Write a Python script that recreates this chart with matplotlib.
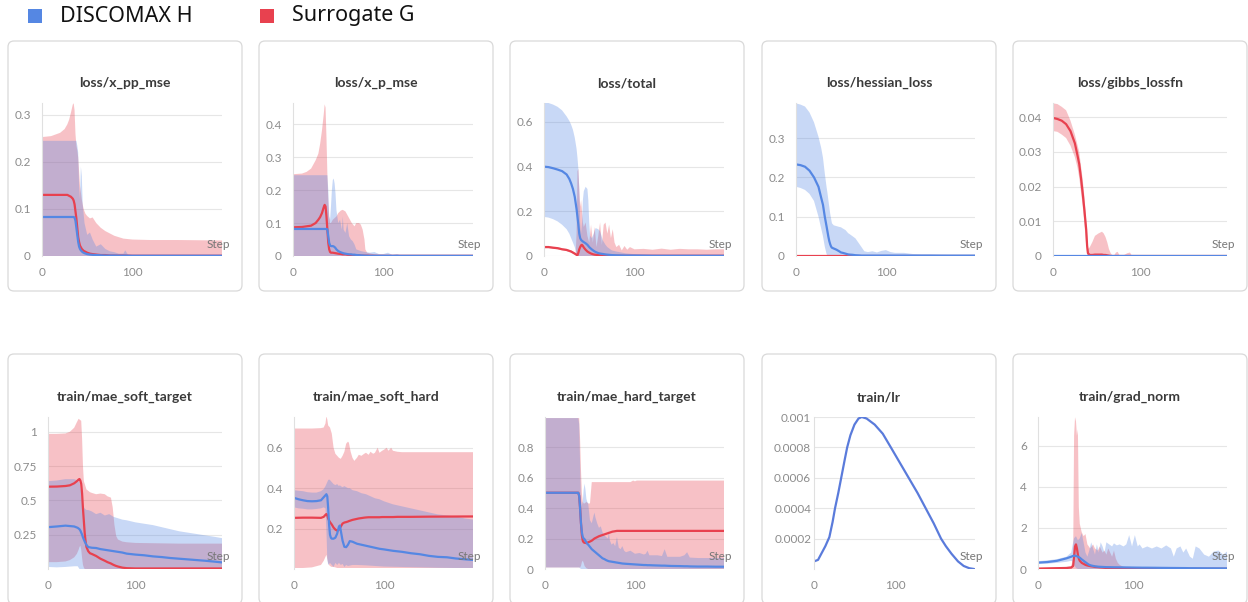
import numpy as np
import matplotlib
matplotlib.use("Agg")
import matplotlib.pyplot as plt
from matplotlib.patches import FancyBboxPatch, Rectangle
from matplotlib.ticker import FuncFormatter

plt.rcParams["font.family"] = ["Lato", "DejaVu Sans"]

BLUE = "#5587E3"
RED = "#E8414F"

SERIES_NAMES = ["DISCOMAX H", "Surrogate G"]
TITLES = ["loss/x_pp_mse", "loss/x_p_mse", "loss/total", "loss/hessian_loss", "loss/gibbs_lossfn",
          "train/mae_soft_target", "train/mae_soft_hard", "train/mae_hard_target", "train/lr", "train/grad_norm"]
X_TICKS = [0, 100]

# ---------- loss/x_pp_mse ----------
PP_B_STEP = [0, 10, 20, 30, 35, 36, 37, 38, 39, 40, 41, 42, 43, 44, 45, 47, 50, 53, 56, 60, 65, 70, 75, 80, 85, 90, 92, 95, 100, 120, 150, 199]
PP_B_MID = [0.083, 0.083, 0.083, 0.083, 0.083, 0.082, 0.075, 0.06, 0.045, 0.03, 0.02, 0.015, 0.012, 0.01, 0.008, 0.006, 0.004, 0.003, 0.0025, 0.002, 0.0015, 0.001, 0.001, 0.001, 0.0008, 0.0008, 0.0008, 0.0006, 0.0005, 0.0005, 0.0005, 0.0005]
PP_B_HI = [0.245, 0.245, 0.245, 0.245, 0.245, 0.245, 0.245, 0.245, 0.235, 0.22, 0.15, 0.12, 0.19, 0.17, 0.11, 0.07, 0.045, 0.05, 0.035, 0.02, 0.025, 0.015, 0.01, 0.008, 0.005, 0.005, 0.012, 0.003, 0.002, 0.001, 0.001, 0.0005]
PP_B_LO_STEP = [0, 199]
PP_B_LO = [0, 0]
PP_R_STEP = [0, 10, 20, 25, 28, 30, 32, 34, 35, 36, 37, 38, 39, 40, 41, 42, 44, 46, 48, 50, 53, 56, 60, 65, 70, 75, 80, 85, 90, 100, 120, 150, 199]
PP_R_MID = [0.13, 0.13, 0.13, 0.13, 0.13, 0.128, 0.126, 0.122, 0.118, 0.11, 0.095, 0.08, 0.06, 0.04, 0.03, 0.022, 0.015, 0.011, 0.009, 0.007, 0.005, 0.004, 0.003, 0.002, 0.002, 0.001, 0.001, 0.001, 0.001, 0.0005, 0.0005, 0.0005, 0.0005]
PP_R_HI = [0.253, 0.255, 0.262, 0.27, 0.28, 0.29, 0.305, 0.322, 0.325, 0.31, 0.26, 0.235, 0.225, 0.21, 0.18, 0.15, 0.12, 0.1, 0.09, 0.085, 0.08, 0.082, 0.07, 0.06, 0.053, 0.048, 0.043, 0.04, 0.037, 0.035, 0.034, 0.034, 0.033]
PP_R_LO_STEP = [0, 199]
PP_R_LO = [0, 0]
PP_YTICKS = [0, 0.1, 0.2, 0.3]
PP_YTOP = 0.3255

# ---------- loss/x_p_mse ----------
XP_B_STEP = [0, 10, 20, 30, 36, 38, 39, 40, 41, 42, 43, 44, 45, 46, 47, 48, 50, 52, 54, 55, 56, 58, 60, 62, 64, 66, 68, 70, 75, 80, 85, 90, 95, 100, 105, 110, 115, 120, 150, 199]
XP_B_MID = [0.082, 0.082, 0.082, 0.082, 0.082, 0.081, 0.06, 0.04, 0.032, 0.03, 0.03, 0.03, 0.029, 0.027, 0.024, 0.02, 0.015, 0.012, 0.01, 0.009, 0.008, 0.007, 0.006, 0.005, 0.005, 0.004, 0.004, 0.003, 0.002, 0.001, 0.0005, 0.0005, 0.0005, 0.0005, 0.0005, 0.0005, 0.0005, 0.0005, 0.0005, 0.0005]
XP_B_HI = [0.245, 0.245, 0.245, 0.245, 0.245, 0.245, 0.2, 0.12, 0.11, 0.15, 0.2, 0.23, 0.235, 0.22, 0.19, 0.14, 0.1, 0.11, 0.08, 0.12, 0.08, 0.07, 0.1, 0.06, 0.05, 0.045, 0.035, 0.02, 0.015, 0.012, 0.01, 0.012, 0.006, 0.006, 0.01, 0.003, 0.006, 0.001, 0.0005, 0.0003]
XP_B_LO_STEP = [0, 199]
XP_B_LO = [0, 0]
XP_R_STEP = [0, 10, 15, 20, 25, 28, 30, 32, 34, 35, 36, 37, 38, 39, 40, 41, 42, 44, 46, 48, 50, 53, 55, 58, 60, 63, 65, 68, 70, 73, 75, 77, 79, 80, 82, 85, 90, 100, 120, 199]
XP_R_MID = [0.087, 0.088, 0.09, 0.092, 0.1, 0.11, 0.118, 0.13, 0.148, 0.155, 0.15, 0.12, 0.08, 0.04, 0.02, 0.012, 0.01, 0.01, 0.009, 0.008, 0.007, 0.006, 0.005, 0.005, 0.004, 0.003, 0.003, 0.002, 0.002, 0.002, 0.001, 0.001, 0.001, 0.001, 0.001, 0.0005, 0.0005, 0.0005, 0.0005, 0.0005]
XP_R_HI = [0.248, 0.25, 0.255, 0.265, 0.29, 0.31, 0.34, 0.38, 0.43, 0.46, 0.45, 0.36, 0.25, 0.17, 0.12, 0.1, 0.1, 0.11, 0.115, 0.12, 0.13, 0.138, 0.14, 0.135, 0.125, 0.11, 0.1, 0.09, 0.1, 0.1, 0.095, 0.08, 0.05, 0.02, 0.01, 0.008, 0.005, 0.002, 0.001, 0.0005]
XP_R_LO_STEP = [0, 199]
XP_R_LO = [0, 0]
XP_YTICKS = [0, 0.1, 0.2, 0.3, 0.4]
XP_YTOP = 0.464

# ---------- loss/total ----------
TOT_B_STEP = [0, 5, 10, 15, 20, 25, 28, 30, 32, 34, 36, 37, 38, 39, 40, 41, 42, 43, 44, 46, 48, 49, 50, 51, 53, 55, 57, 60, 62, 65, 68, 70, 75, 80, 90, 100, 120, 150, 199]
TOT_B_MID = [0.4, 0.398, 0.393, 0.387, 0.38, 0.365, 0.345, 0.325, 0.3, 0.265, 0.21, 0.175, 0.14, 0.1, 0.08, 0.072, 0.068, 0.065, 0.062, 0.057, 0.05, 0.045, 0.04, 0.036, 0.029, 0.023, 0.018, 0.013, 0.011, 0.009, 0.007, 0.006, 0.004, 0.003, 0.002, 0.002, 0.001, 0.001, 0.001]
TOT_B_HI = [0.688, 0.685, 0.678, 0.668, 0.652, 0.625, 0.605, 0.588, 0.565, 0.53, 0.48, 0.44, 0.39, 0.3, 0.15, 0.1, 0.15, 0.25, 0.29, 0.31, 0.3, 0.25, 0.15, 0.09, 0.08, 0.1, 0.125, 0.12, 0.11, 0.07, 0.05, 0.04, 0.025, 0.02, 0.012, 0.008, 0.005, 0.004, 0.003]
TOT_B_LO_STEP = [0, 5, 10, 15, 20, 25, 28, 30, 32, 34, 36, 37, 199]
TOT_B_LO = [0.175, 0.172, 0.165, 0.155, 0.14, 0.12, 0.1, 0.08, 0.06, 0.04, 0.01, 0, 0]
TOT_R_STEP = [0, 5, 10, 15, 20, 25, 30, 33, 35, 36, 37, 38, 39, 40, 41, 42, 43, 44, 46, 48, 50, 52, 54, 56, 58, 60, 62, 64, 66, 68, 70, 72, 74, 76, 78, 80, 83, 86, 89, 92, 95, 100, 110, 120, 130, 140, 150, 160, 170, 180, 190, 199]
TOT_R_MID = [0.04, 0.04, 0.037, 0.035, 0.03, 0.027, 0.02, 0.013, 0.008, 0.005, 0.003, 0.015, 0.03, 0.04, 0.048, 0.05, 0.045, 0.038, 0.028, 0.02, 0.015, 0.011, 0.008, 0.006, 0.005, 0.004, 0.003, 0.003, 0.002, 0.002, 0.002, 0.001, 0.001, 0.001, 0.001, 0.001, 0.001, 0.001, 0.001, 0.001, 0.001, 0.001, 0.001, 0.001, 0.001, 0.001, 0.001, 0.001, 0.001, 0.001, 0.001, 0.001]
TOT_R_HI = [0.045, 0.045, 0.042, 0.04, 0.035, 0.032, 0.025, 0.018, 0.012, 0.1, 0.38, 0.39, 0.3, 0.22, 0.25, 0.2, 0.15, 0.13, 0.15, 0.09, 0.06, 0.14, 0.06, 0.13, 0.04, 0.09, 0.15, 0.05, 0.14, 0.15, 0.1, 0.14, 0.08, 0.12, 0.06, 0.04, 0.05, 0.025, 0.045, 0.028, 0.04, 0.03, 0.032, 0.028, 0.033, 0.028, 0.032, 0.03, 0.03, 0.028, 0.03, 0.03]
TOT_R_LO_STEP = [0, 5, 10, 15, 20, 25, 30, 33, 35, 36, 199]
TOT_R_LO = [0.035, 0.035, 0.033, 0.03, 0.026, 0.022, 0.015, 0.008, 0.004, 0, 0]
TOT_YTICKS = [0, 0.2, 0.4, 0.6]
TOT_YTOP = 0.685

# ---------- loss/hessian_loss ----------
HES_B_STEP = [0, 5, 10, 15, 20, 25, 28, 30, 32, 34, 35, 36, 37, 38, 39, 40, 42, 45, 48, 50, 52, 55, 58, 60, 63, 66, 70, 73, 76, 80, 85, 90, 95, 100, 105, 110, 120, 130, 140, 150, 160, 180, 199]
HES_B_MID = [0.233, 0.231, 0.227, 0.217, 0.2, 0.176, 0.148, 0.13, 0.1, 0.075, 0.062, 0.049, 0.038, 0.03, 0.024, 0.021, 0.019, 0.016, 0.012, 0.009, 0.008, 0.006, 0.004, 0.0035, 0.003, 0.002, 0.0015, 0.001, 0.001, 0.001, 0.001, 0.001, 0.001, 0.001, 0.001, 0.001, 0.001, 0.001, 0.001, 0.001, 0.001, 0.001, 0.001]
HES_B_HI = [0.388, 0.385, 0.38, 0.365, 0.34, 0.303, 0.275, 0.25, 0.21, 0.175, 0.16, 0.142, 0.125, 0.108, 0.095, 0.083, 0.078, 0.076, 0.074, 0.073, 0.07, 0.066, 0.058, 0.055, 0.05, 0.045, 0.032, 0.022, 0.012, 0.01, 0.012, 0.009, 0.013, 0.015, 0.01, 0.008, 0.008, 0.005, 0.004, 0.004, 0.003, 0.002, 0.002]
HES_B_LO_STEP = [0, 5, 10, 15, 20, 25, 28, 30, 32, 34, 35, 199]
HES_B_LO = [0.176, 0.173, 0.168, 0.158, 0.14, 0.1, 0.07, 0.05, 0.024, 0.005, 0, 0]
HES_R_STEP = [0, 199]
HES_R_MID = [0, 0]
HES_R_HI = [0, 0]
HES_R_LO_STEP = [0, 199]
HES_R_LO = [0, 0]
HES_YTICKS = [0, 0.1, 0.2, 0.3]
HES_YTOP = 0.389

# ---------- loss/gibbs_lossfn ----------
GIB_B_STEP = [0, 199]
GIB_B_MID = [0, 0]
GIB_B_HI = [0, 0]
GIB_B_LO_STEP = [0, 199]
GIB_B_LO = [0, 0]
GIB_R_STEP = [0, 5, 10, 15, 20, 25, 28, 30, 32, 34, 36, 38, 39, 40, 42, 45, 48, 52, 56, 58, 60, 62, 64, 66, 68, 70, 72, 74, 76, 80, 85, 88, 90, 95, 199]
GIB_R_MID = [0.0398, 0.0395, 0.039, 0.038, 0.036, 0.0325, 0.029, 0.0265, 0.0225, 0.018, 0.013, 0.0075, 0.003, 0.0008, 0.0003, 0.0003, 0.0004, 0.0004, 0.0004, 0.0003, 0.0003, 0.0002, 0.0001, 0, 0, 0, 0, 0, 0, 0, 0, 0, 0, 0, 0]
GIB_R_HI = [0.044, 0.0438, 0.043, 0.042, 0.039, 0.035, 0.032, 0.03, 0.026, 0.022, 0.017, 0.01, 0.0066, 0.002, 0.0025, 0.004, 0.0058, 0.0065, 0.007, 0.0065, 0.0055, 0.004, 0.002, 0.0008, 0.0002, 0.0002, 0.001, 0.0012, 0.0002, 0.0001, 0.0008, 0.001, 0.0002, 0, 0]
GIB_R_LO_STEP = [0, 5, 10, 15, 20, 25, 28, 30, 32, 34, 36, 38, 39, 40, 199]
GIB_R_LO = [0.036, 0.0358, 0.035, 0.034, 0.0318, 0.0285, 0.0255, 0.0226, 0.0185, 0.0144, 0.009, 0.003, 0.0003, 0, 0]
GIB_YTICKS = [0, 0.01, 0.02, 0.03, 0.04]
GIB_YTOP = 0.0441

# ---------- train/mae_soft_target ----------
MST_B_STEP = [0, 10, 20, 30, 34, 36, 37, 38, 39, 40, 42, 44, 46, 50, 55, 60, 65, 70, 75, 80, 85, 90, 100, 110, 120, 130, 140, 150, 160, 170, 180, 190, 199]
MST_B_MID = [0.305, 0.31, 0.316, 0.31, 0.3, 0.29, 0.28, 0.265, 0.25, 0.23, 0.2, 0.175, 0.16, 0.155, 0.153, 0.145, 0.14, 0.135, 0.13, 0.125, 0.12, 0.112, 0.105, 0.1, 0.092, 0.087, 0.08, 0.075, 0.07, 0.065, 0.06, 0.054, 0.048]
MST_B_HI = [0.64, 0.645, 0.655, 0.655, 0.645, 0.63, 0.6, 0.55, 0.5, 0.46, 0.44, 0.43, 0.43, 0.42, 0.4, 0.41, 0.39, 0.4, 0.38, 0.37, 0.36, 0.355, 0.34, 0.33, 0.32, 0.305, 0.29, 0.275, 0.265, 0.255, 0.245, 0.235, 0.225]
MST_B_LO_STEP = [0, 10, 20, 30, 34, 36, 199]
MST_B_LO = [0.015, 0.012, 0.015, 0.02, 0.02, 0, 0]
MST_R_STEP = [0, 10, 20, 25, 30, 33, 35, 36, 37, 38, 39, 40, 41, 42, 43, 44, 46, 48, 50, 55, 60, 65, 68, 70, 72, 74, 76, 78, 80, 85, 90, 100, 120, 150, 199]
MST_R_MID = [0.6, 0.601, 0.605, 0.61, 0.625, 0.64, 0.652, 0.656, 0.645, 0.62, 0.55, 0.44, 0.35, 0.26, 0.2, 0.16, 0.13, 0.115, 0.11, 0.095, 0.075, 0.06, 0.05, 0.045, 0.04, 0.033, 0.027, 0.022, 0.018, 0.01, 0.006, 0.004, 0.004, 0.004, 0.004]
MST_R_HI = [0.985, 0.985, 0.988, 1.0, 1.03, 1.07, 1.095, 1.09, 1.085, 1.08, 0.95, 0.75, 0.64, 0.62, 0.6, 0.58, 0.57, 0.56, 0.555, 0.545, 0.55, 0.545, 0.53, 0.525, 0.52, 0.45, 0.32, 0.24, 0.215, 0.2, 0.195, 0.19, 0.188, 0.185, 0.185]
MST_R_LO_STEP = [0, 10, 20, 25, 30, 33, 35, 36, 37, 38, 39, 40, 41, 42, 199]
MST_R_LO = [0.05, 0.05, 0.055, 0.065, 0.085, 0.11, 0.14, 0.16, 0.17, 0.14, 0.08, 0.03, 0.01, 0, 0]
MST_YTICKS = [0.25, 0.5, 0.75, 1]
MST_YTOP = 1.108

# ---------- train/mae_soft_hard ----------
MSH_B_STEP = [0, 5, 10, 15, 20, 25, 30, 33, 35, 36, 37, 38, 39, 40, 41, 42, 44, 46, 48, 50, 51, 52, 54, 56, 58, 60, 62, 65, 70, 75, 80, 85, 90, 95, 100, 110, 120, 130, 140, 150, 160, 170, 180, 190, 199]
MSH_B_MID = [0.352, 0.345, 0.34, 0.336, 0.335, 0.336, 0.34, 0.355, 0.365, 0.37, 0.36, 0.3, 0.22, 0.17, 0.155, 0.15, 0.15, 0.155, 0.175, 0.21, 0.215, 0.19, 0.14, 0.11, 0.108, 0.12, 0.138, 0.135, 0.125, 0.12, 0.115, 0.11, 0.105, 0.1, 0.097, 0.09, 0.085, 0.078, 0.073, 0.065, 0.06, 0.058, 0.052, 0.048, 0.045]
MSH_B_HI = [0.39, 0.387, 0.385, 0.38, 0.378, 0.378, 0.385, 0.395, 0.41, 0.42, 0.43, 0.44, 0.443, 0.44, 0.435, 0.43, 0.42, 0.415, 0.42, 0.41, 0.415, 0.41, 0.405, 0.41, 0.405, 0.4, 0.4, 0.39, 0.385, 0.375, 0.37, 0.36, 0.35, 0.345, 0.335, 0.32, 0.31, 0.3, 0.29, 0.28, 0.27, 0.265, 0.26, 0.25, 0.245]
MSH_B_LO_STEP = [0, 5, 10, 15, 20, 25, 30, 33, 35, 36, 37, 38, 40, 42, 44, 46, 48, 50, 52, 54, 56, 58, 60, 65, 70, 80, 100, 120, 140, 160, 180, 199]
MSH_B_LO = [0.305, 0.3, 0.298, 0.295, 0.295, 0.297, 0.3, 0.305, 0.3, 0.2, 0.05, 0.02, 0.03, 0.02, 0.01, 0.03, 0.02, 0.03, 0.02, 0.025, 0.01, 0.02, 0.015, 0.02, 0.02, 0.018, 0.012, 0.01, 0.008, 0.006, 0.005, 0.005]
MSH_R_STEP = [0, 10, 20, 30, 33, 35, 36, 37, 38, 39, 40, 42, 44, 46, 48, 50, 52, 54, 56, 58, 60, 61, 63, 65, 67, 70, 72, 75, 78, 80, 83, 85, 88, 90, 93, 95, 98, 100, 103, 105, 108, 110, 115, 120, 130, 150, 199]
MSH_R_MID = [0.253, 0.254, 0.254, 0.253, 0.258, 0.268, 0.272, 0.265, 0.25, 0.24, 0.232, 0.22, 0.205, 0.195, 0.19, 0.195, 0.21, 0.225, 0.23, 0.232, 0.235, 0.237, 0.24, 0.243, 0.245, 0.248, 0.25, 0.252, 0.254, 0.255, 0.256, 0.256, 0.256, 0.256, 0.256, 0.256, 0.257, 0.257, 0.257, 0.257, 0.257, 0.257, 0.258, 0.258, 0.258, 0.259, 0.26]
MSH_R_HI = [0.695, 0.695, 0.695, 0.697, 0.7, 0.72, 0.755, 0.74, 0.71, 0.705, 0.7, 0.67, 0.6, 0.57, 0.56, 0.55, 0.545, 0.56, 0.58, 0.62, 0.63, 0.625, 0.58, 0.55, 0.535, 0.55, 0.565, 0.56, 0.57, 0.575, 0.565, 0.58, 0.57, 0.575, 0.6, 0.575, 0.585, 0.59, 0.6, 0.585, 0.6, 0.585, 0.58, 0.578, 0.578, 0.578, 0.578]
MSH_R_LO_STEP = [0, 10, 20, 30, 33, 35, 36, 37, 38, 39, 40, 42, 44, 46, 48, 199]
MSH_R_LO = [0.005, 0.005, 0.008, 0.02, 0.04, 0.06, 0.07, 0.05, 0.03, 0.02, 0.015, 0.01, 0.01, 0.008, 0.005, 0.005]
MSH_YTICKS = [0.2, 0.4, 0.6]
MSH_YTOP = 0.752

# ---------- train/mae_hard_target ----------
MHT_B_STEP = [0, 10, 20, 30, 36, 37, 38, 39, 40, 41, 42, 43, 44, 45, 46, 47, 48, 50, 52, 54, 55, 56, 58, 60, 62, 64, 66, 68, 70, 71, 72, 74, 76, 78, 80, 82, 84, 86, 88, 90, 95, 100, 105, 110, 112, 114, 116, 120, 125, 130, 133, 136, 140, 150, 155, 158, 161, 170, 180, 190, 199]
MHT_B_MID = [0.5, 0.5, 0.5, 0.5, 0.5, 0.5, 0.48, 0.4, 0.3, 0.24, 0.21, 0.2, 0.195, 0.185, 0.175, 0.165, 0.16, 0.145, 0.13, 0.12, 0.115, 0.11, 0.1, 0.09, 0.08, 0.07, 0.065, 0.058, 0.053, 0.051, 0.05, 0.048, 0.046, 0.044, 0.042, 0.04, 0.038, 0.036, 0.035, 0.034, 0.032, 0.03, 0.028, 0.026, 0.026, 0.025, 0.025, 0.024, 0.023, 0.022, 0.022, 0.021, 0.02, 0.019, 0.018, 0.018, 0.017, 0.016, 0.016, 0.015, 0.015]
MHT_B_HI = [0.99, 0.99, 0.99, 0.99, 0.99, 0.99, 0.95, 0.7, 0.45, 0.42, 0.44, 0.52, 0.56, 0.52, 0.46, 0.44, 0.43, 0.32, 0.3, 0.35, 0.37, 0.34, 0.3, 0.27, 0.28, 0.24, 0.22, 0.21, 0.2, 0.25, 0.19, 0.16, 0.17, 0.15, 0.21, 0.14, 0.13, 0.15, 0.12, 0.11, 0.12, 0.1, 0.105, 0.095, 0.1, 0.12, 0.09, 0.09, 0.09, 0.085, 0.13, 0.08, 0.08, 0.08, 0.09, 0.11, 0.075, 0.072, 0.072, 0.072, 0.072]
MHT_B_LO_STEP = [0, 38, 39, 40, 199]
MHT_B_LO = [0.01, 0.01, 0.005, 0, 0]
MHT_R_STEP = [0, 10, 20, 30, 37, 38, 39, 40, 41, 42, 43, 44, 46, 48, 50, 51, 52, 55, 60, 65, 70, 75, 80, 85, 90, 95, 98, 100, 102, 105, 110, 150, 199]
MHT_R_MID = [0.5, 0.5, 0.5, 0.5, 0.5, 0.48, 0.4, 0.3, 0.22, 0.185, 0.175, 0.172, 0.17, 0.175, 0.18, 0.183, 0.186, 0.2, 0.215, 0.225, 0.235, 0.245, 0.25, 0.25, 0.25, 0.25, 0.25, 0.25, 0.25, 0.25, 0.25, 0.25, 0.25]
MHT_R_HI = [0.99, 0.99, 0.99, 0.99, 0.99, 0.99, 0.85, 0.65, 0.5, 0.44, 0.43, 0.43, 0.44, 0.43, 0.43, 0.5, 0.57, 0.57, 0.57, 0.57, 0.57, 0.57, 0.57, 0.57, 0.57, 0.57, 0.58, 0.575, 0.58, 0.58, 0.58, 0.58, 0.58]
MHT_R_LO_STEP = [0, 39, 40, 41, 42, 43, 44, 46, 48, 199]
MHT_R_LO = [0.01, 0.01, 0.02, 0.045, 0.055, 0.04, 0.02, 0.005, 0, 0]
MHT_YTICKS = [0, 0.2, 0.4, 0.6, 0.8]
MHT_YTOP = 0.997

# ---------- train/lr (single run) ----------
LR_STEP = [0, 5, 10, 14, 19, 23, 26, 30, 34, 38, 41, 45, 50, 55, 59, 65, 70, 75, 85, 95, 106, 117, 128, 138, 148, 157, 163, 170, 178, 185, 192, 198]
LR = [0.00005, 0.00006, 0.00011, 0.00015, 0.00021, 0.00031, 0.0004, 0.0005, 0.00061, 0.00072, 0.0008, 0.00088, 0.00095, 0.00099, 0.001, 0.00099, 0.00097, 0.00095, 0.00089, 0.0008, 0.0007, 0.0006, 0.0005, 0.0004, 0.0003, 0.0002, 0.00015, 0.0001, 0.00005, 0.00002, 0.000005, 0.0]
LR_YTICKS = [0.0002, 0.0004, 0.0006, 0.0008, 0.001]
LR_YTOP = 0.001

# ---------- train/grad_norm ----------
GN_B_STEP = [0, 10, 20, 30, 35, 37, 38, 40, 42, 44, 46, 48, 50, 52, 54, 56, 58, 60, 62, 64, 66, 68, 70, 72, 75, 78, 80, 83, 86, 90, 93, 96, 99, 102, 105, 107, 110, 115, 120, 125, 130, 135, 140, 143, 146, 150, 153, 156, 160, 163, 166, 170, 175, 180, 185, 190, 195, 199]
GN_B_MID = [0.31, 0.34, 0.4, 0.52, 0.6, 0.64, 0.65, 0.64, 0.6, 0.55, 0.47, 0.4, 0.33, 0.26, 0.2, 0.17, 0.15, 0.13, 0.12, 0.11, 0.105, 0.1, 0.095, 0.09, 0.088, 0.085, 0.083, 0.082, 0.08, 0.078, 0.075, 0.073, 0.07, 0.068, 0.066, 0.065, 0.063, 0.062, 0.06, 0.058, 0.055, 0.053, 0.05, 0.049, 0.048, 0.046, 0.045, 0.044, 0.04, 0.04, 0.039, 0.038, 0.036, 0.035, 0.034, 0.033, 0.031, 0.03]
GN_B_HI = [0.38, 0.42, 0.48, 0.6, 0.8, 1.3, 1.5, 1.6, 1.4, 1.5, 1.75, 1.3, 0.8, 0.6, 0.9, 1.3, 1.0, 0.7, 1.2, 0.8, 1.3, 1.1, 0.8, 1.3, 1.2, 1.1, 1.25, 1.15, 1.2, 1.1, 1.2, 1.65, 1.1, 1.65, 1.1, 1.2, 1.0, 1.1, 1.0, 1.1, 1.0, 1.15, 1.0, 0.6, 1.0, 1.1, 0.8, 1.0, 0.6, 0.5, 1.1, 1.0, 0.7, 0.6, 0.85, 0.9, 0.7, 0.85]
GN_B_LO_STEP = [0, 10, 20, 30, 35, 37, 38, 40, 42, 199]
GN_B_LO = [0.25, 0.26, 0.3, 0.35, 0.4, 0.35, 0.2, 0.05, 0, 0]
GN_R_STEP = [0, 10, 20, 30, 35, 37, 38, 39, 40, 41, 42, 43, 44, 45, 46, 48, 50, 52, 55, 58, 60, 63, 65, 68, 70, 72, 74, 76, 78, 80, 82, 84, 86, 90, 100, 120, 150, 199]
GN_R_MID = [0.02, 0.03, 0.04, 0.05, 0.07, 0.15, 0.6, 1.1, 1.2, 1.0, 0.7, 0.5, 0.4, 0.35, 0.3, 0.25, 0.2, 0.17, 0.14, 0.12, 0.1, 0.09, 0.08, 0.07, 0.06, 0.05, 0.05, 0.045, 0.04, 0.04, 0.035, 0.035, 0.03, 0.03, 0.02, 0.015, 0.01, 0.01]
GN_R_HI = [0.05, 0.06, 0.08, 0.1, 0.15, 0.5, 6.5, 7.4, 7.2, 6.5, 6.8, 3.0, 2.2, 2.0, 1.8, 1.6, 1.7, 1.2, 1.0, 1.2, 1.0, 0.9, 1.1, 0.8, 0.9, 0.7, 1.0, 0.8, 0.6, 0.9, 0.5, 0.3, 0.2, 0.1, 0.08, 0.06, 0.05, 0.05]
GN_R_LO_STEP = [0, 199]
GN_R_LO = [0, 0]
GN_YTICKS = [0, 2, 4, 6]
GN_YTOP = 7.41

# table of panels built from the lists above: (blue run, red run, yticks, ytop)
PANEL_DATA = [
    ((PP_B_STEP, PP_B_MID, PP_B_HI, PP_B_LO_STEP, PP_B_LO), (PP_R_STEP, PP_R_MID, PP_R_HI, PP_R_LO_STEP, PP_R_LO), PP_YTICKS, PP_YTOP),
    ((XP_B_STEP, XP_B_MID, XP_B_HI, XP_B_LO_STEP, XP_B_LO), (XP_R_STEP, XP_R_MID, XP_R_HI, XP_R_LO_STEP, XP_R_LO), XP_YTICKS, XP_YTOP),
    ((TOT_B_STEP, TOT_B_MID, TOT_B_HI, TOT_B_LO_STEP, TOT_B_LO), (TOT_R_STEP, TOT_R_MID, TOT_R_HI, TOT_R_LO_STEP, TOT_R_LO), TOT_YTICKS, TOT_YTOP),
    ((HES_B_STEP, HES_B_MID, HES_B_HI, HES_B_LO_STEP, HES_B_LO), (HES_R_STEP, HES_R_MID, HES_R_HI, HES_R_LO_STEP, HES_R_LO), HES_YTICKS, HES_YTOP),
    ((GIB_B_STEP, GIB_B_MID, GIB_B_HI, GIB_B_LO_STEP, GIB_B_LO), (GIB_R_STEP, GIB_R_MID, GIB_R_HI, GIB_R_LO_STEP, GIB_R_LO), GIB_YTICKS, GIB_YTOP),
    ((MST_B_STEP, MST_B_MID, MST_B_HI, MST_B_LO_STEP, MST_B_LO), (MST_R_STEP, MST_R_MID, MST_R_HI, MST_R_LO_STEP, MST_R_LO), MST_YTICKS, MST_YTOP),
    ((MSH_B_STEP, MSH_B_MID, MSH_B_HI, MSH_B_LO_STEP, MSH_B_LO), (MSH_R_STEP, MSH_R_MID, MSH_R_HI, MSH_R_LO_STEP, MSH_R_LO), MSH_YTICKS, MSH_YTOP),
    ((MHT_B_STEP, MHT_B_MID, MHT_B_HI, MHT_B_LO_STEP, MHT_B_LO), (MHT_R_STEP, MHT_R_MID, MHT_R_HI, MHT_R_LO_STEP, MHT_R_LO), MHT_YTICKS, MHT_YTOP),
    ((LR_STEP, LR, None, None, None), None, LR_YTICKS, LR_YTOP),
    ((GN_B_STEP, GN_B_MID, GN_B_HI, GN_B_LO_STEP, GN_B_LO), (GN_R_STEP, GN_R_MID, GN_R_HI, GN_R_LO_STEP, GN_R_LO), GN_YTICKS, GN_YTOP),
]

# ---------- layout (pixels) ----------
W, H = 1248, 602
CARD_X = [8, 259, 510, 762, 1013]
CARD_W = 234
CARD_Y = [41, 354]
CARD_H = 250
TITLE_Y = [83, 397]
# plot areas: (left, right, top, bottom)
AX_BOX = [
    (42, 222, 103, 256), (293, 473, 103, 256), (544, 724, 103, 256), (796, 975, 103, 256), (1053, 1227, 103, 256),
    (48, 222, 417, 569), (294, 473, 417, 569), (545, 724, 417, 569), (814, 975, 417, 569), (1038, 1227, 417, 569),
]

fig = plt.figure(figsize=(W / 100, H / 100), dpi=100)
bg = fig.add_axes([0, 0, 1, 1])
bg.set_xlim(0, W)
bg.set_ylim(H, 0)
bg.axis("off")

# legend
for i, (name, col) in enumerate(zip(SERIES_NAMES, [BLUE, RED])):
    x0 = [28, 260][i]
    bg.add_patch(Rectangle((x0, 9), 14, 14, color=col, lw=0))
    bg.text(x0 + 32, 16, name, fontsize=15.5, va="center", ha="left", color="#111111",
            family=["Noto Sans", "DejaVu Sans"])

# cards + titles
for r in range(2):
    for c in range(5):
        bg.add_patch(FancyBboxPatch((CARD_X[c], CARD_Y[r]), CARD_W, CARD_H,
                                    boxstyle="round,pad=0,rounding_size=6",
                                    fc="white", ec="#d9d9d9", lw=0.9))
        bg.text(CARD_X[c] + CARD_W / 2, TITLE_Y[r], TITLES[r * 5 + c], ha="center", va="center",
                fontsize=10, fontweight="bold", color="#3a3a3a")


def band(ax, run, color):
    steps, mid, hi, lo_steps, lo = run
    if hi is not None:
        xs = np.concatenate([steps, lo_steps[::-1]])
        ys = np.concatenate([hi, lo[::-1]])
        ax.fill(xs, ys, color=color, alpha=0.32, lw=0)


def line(ax, run, color):
    ax.plot(run[0], run[1], color=color, lw=1.6, solid_joinstyle="round", solid_capstyle="round")


for k, (blue, red, yticks, ytop) in enumerate(PANEL_DATA):
    l, r, t, b = AX_BOX[k]
    ax = fig.add_axes([l / W, 1 - b / H, (r - l) / W, (b - t) / H])
    ax.patch.set_alpha(0)
    if red is not None:
        band(ax, red, RED)
    band(ax, blue, BLUE)
    if red is not None:
        line(ax, red, RED)
    line(ax, blue, BLUE if red is not None else "#5A7BDB")
    ax.set_xlim(0, 199)
    ax.set_ylim(0, ytop)
    ax.set_xticks(X_TICKS)
    ax.set_yticks(yticks)
    ax.yaxis.set_major_formatter(FuncFormatter(lambda v, p: "{:g}".format(v)))
    ax.yaxis.grid(True, color="#e6e6e6", lw=0.8)
    ax.set_axisbelow(True)
    for s in ["top", "right", "bottom"]:
        ax.spines[s].set_visible(False)
    ax.spines["left"].set_color("#e0e0e0")
    ax.spines["left"].set_linewidth(0.8)
    ax.tick_params(axis="both", length=0, labelsize=8.5, labelcolor="#8c8c8c", pad=8)
    if red is None:
        ax.tick_params(axis="y", pad=2)
    ax.annotate("Step", xy=(1, 0), xycoords="axes fraction", xytext=(-4, 12),
                textcoords="offset pixels", ha="center", va="center", fontsize=8.5, color="#777777")

fig.savefig("out.png", dpi=100)
